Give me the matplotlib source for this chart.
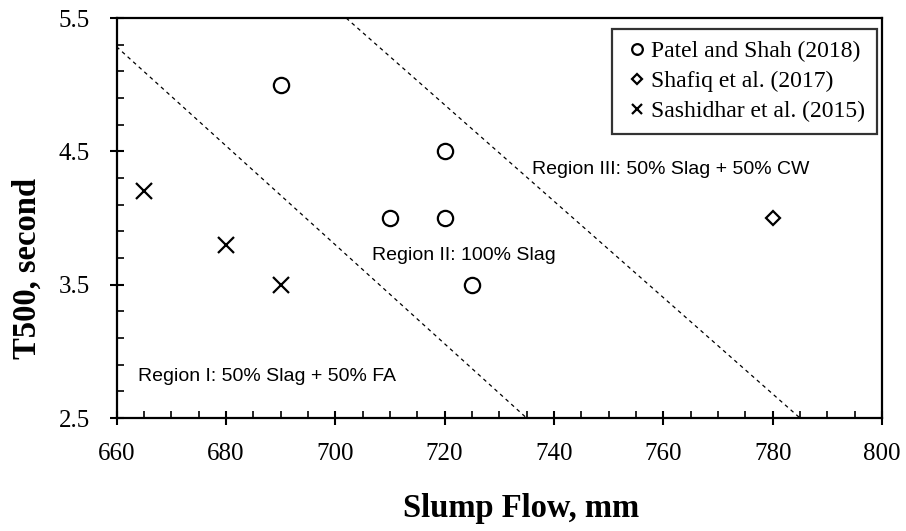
import matplotlib
matplotlib.use("Agg")
import matplotlib.pyplot as plt
from matplotlib.ticker import MultipleLocator

# slump flow (mm) vs T500 (s) for the three studies
patel_x = [690, 720, 710, 720, 725]
patel_y = [5.0, 4.5, 4.0, 4.0, 3.5]
shafiq_x = [780]
shafiq_y = [4.0]
sashidhar_x = [665, 680, 690]
sashidhar_y = [4.2, 3.8, 3.5]

# region boundaries (end points of the dashed lines)
boundary1_x = [660, 735]
boundary1_y = [5.285, 2.5]
boundary2_x = [702, 785]
boundary2_y = [5.5, 2.5]

plt.rcParams['font.family'] = ['Liberation Serif', 'DejaVu Serif']
sans = ['Liberation Sans', 'DejaVu Sans']

fig = plt.figure(figsize=(9.06, 5.31), dpi=100)
ax = fig.add_axes([0.1286, 0.2128, 0.8449, 0.7533])

ax.plot(boundary1_x, boundary1_y, color='black', linestyle=(0, (3, 3)), linewidth=0.9)
ax.plot(boundary2_x, boundary2_y, color='black', linestyle=(0, (3, 3)), linewidth=0.9)

ax.plot(patel_x, patel_y, linestyle='none', marker='o', markersize=11,
        markerfacecolor='white', markeredgecolor='black', markeredgewidth=1.6,
        label='Patel and Shah (2018)')
ax.plot(shafiq_x, shafiq_y, linestyle='none', marker='D', markersize=7.5,
        markerfacecolor='white', markeredgecolor='black', markeredgewidth=1.6,
        label='Shafiq et al. (2017)')
ax.plot(sashidhar_x, sashidhar_y, linestyle='none', marker='x', markersize=11,
        color='black', markeredgewidth=1.6, label='Sashidhar et al. (2015)')

ax.text(735.9, 4.367, 'Region III: 50% Slag + 50% CW', fontsize=14,
        family=sans, va='center', ha='left')
ax.text(706.8, 3.72, 'Region II: 100% Slag', fontsize=14,
        family=sans, va='center', ha='left')
ax.text(663.9, 2.81, 'Region I: 50% Slag + 50% FA', fontsize=14,
        family=sans, va='center', ha='left')

ax.set_xlim(660, 800)
ax.set_ylim(2.5, 5.5)
ax.xaxis.set_major_locator(MultipleLocator(20))
ax.xaxis.set_minor_locator(MultipleLocator(5))
ax.yaxis.set_major_locator(MultipleLocator(1, offset=0.5))
ax.yaxis.set_minor_locator(MultipleLocator(0.2, offset=0.1))
ax.yaxis.set_major_formatter('{x:.1f}')
ax.tick_params(which='major', direction='inout', length=10, width=1.5,
               labelsize=18)
ax.tick_params(axis='x', which='major', pad=13)
ax.tick_params(axis='y', which='major', pad=14)
ax.tick_params(which='minor', direction='in', length=5, width=1.2)

for s in ax.spines.values():
    s.set_linewidth(1.6)

ax.set_xlabel('Slump Flow, mm', fontsize=23.5, fontweight='bold')
ax.set_ylabel('T500, second', fontsize=23.5, fontweight='bold')
ax.xaxis.set_label_coords(0.529, -0.1875)
ax.yaxis.set_label_coords(-0.096, 0.375)

leg = ax.legend(loc='upper right', bbox_to_anchor=(877 / 906, 1 - 29 / 531),
                bbox_transform=fig.transFigure, borderaxespad=0,
                fontsize=17, frameon=True, fancybox=False, edgecolor='black',
                borderpad=0.5, handlelength=1.1, handletextpad=0.05,
                markerscale=0.7, labelspacing=0.35)
leg.get_frame().set_linewidth(1.6)

fig.savefig('out.png', dpi=100)
